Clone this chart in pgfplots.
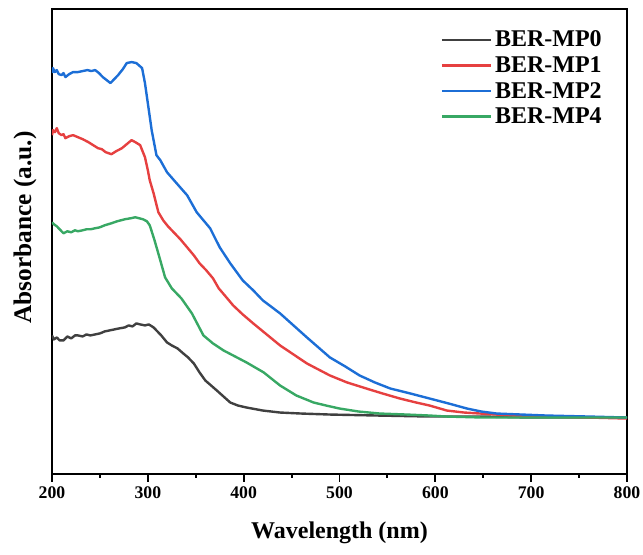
\documentclass[border=0pt]{standalone}
\usepackage{fontspec}
\setmainfont{Liberation Serif}
\usepackage{pgfplots}
\pgfplotsset{compat=1.18}
\usetikzlibrary{calc}
\definecolor{cMPzero}{RGB}{64,64,64}
\definecolor{cMPone}{RGB}{230,64,64}
\definecolor{cMPtwo}{RGB}{28,110,214}
\definecolor{cMPfour}{RGB}{56,168,100}

\begin{document}
\begin{tikzpicture}
\begin{axis}[
    scale only axis,
    width=431.25pt, height=348pt,
    xmin=200, xmax=800,
    ymin=0, ymax=464,
    xtick={200,300,...,800},
    minor x tick num=1,
    ytick=\empty,
    xtick pos=bottom,
    tick align=outside,
    major tick length=6pt,
    minor tick length=3pt,
    every tick/.style={line width=1.4pt, black},
    axis line style={line width=1.6pt},
    /pgf/number format/assume math mode=true,
    tick label style={font=\bfseries\fontsize{13.3}{15}\selectfont},
    xlabel={\textbf{Wavelength (nm)}},
    ylabel={\textbf{Absorbance (a.u.)}},
    xlabel style={font=\fontsize{18}{20}\selectfont, at={(axis description cs:0.5,-0.14)}, anchor=base},
    ylabel style={font=\fontsize{19}{21}\selectfont, at={(axis description cs:-0.047,0.53)}, anchor=center},
    legend style={draw=none, fill=none, at={(axis description cs:0.968,0.965)}, anchor=north east,
        font=\bfseries\fontsize{18}{18.75}\selectfont, row sep=1.8pt},
    legend cell align=left,
    legend image code/.code={\draw[#1] (0cm,0cm) -- (1.3cm,0cm);},
    every axis plot/.append style={line width=1.8pt, line join=round},
]
% BER-MP0
\addplot[cMPzero] coordinates {
(200,138) (202,134) (205,136) (208,133) (212,133) (216,137) (220,135) (224,138) (227,138) (232,137) (236,139) (240,138) (245,139) (250,140)
(255,142) (260,143) (265,144) (270,145) (276,146) (280,148) (284,147) (288,150) (292,149) (297,148) (301,149) (306,146)
(310,142) (314,138) (320,131) (325,128) (331,125) (337,120) (342,116) (348,110) (354,101) (360,93) (366,88) (372,83) (379,77)
(386,71) (394,68) (403,66) (420,63) (438,61) (460,60) (490,59) (540,58) (594,57) (650,57) (700,56) (750,56) (800,56)
};
\addlegendentry{BER-MP0}
% BER-MP1
\addplot[cMPone] coordinates {
(200,338) (201,343) (203,341) (205,345) (207,340) (210,338) (212,339) (214,335) (218,337) (222,338) (227,336) (232,334) (238,331)
(243,328) (248,325) (252,324) (256,321) (262,319) (267,322) (273,325) (278,329) (283,333) (287,331) (292,328) (297,316)
(300,303) (302,293) (306,280) (311,261) (316,253) (321,247) (327,241) (334,234) (341,226) (348,218) (354,210) (361,203) (368,195)
(374,185) (382,176) (389,168) (399,159) (410,150) (424,139) (438,128) (452,119) (466,110) (478,104) (490,98) (508,91) (528,85)
(545,80) (563,75) (580,71) (594,68) (612,63) (630,61) (647,60) (680,58) (716,57) (760,56) (800,55)
};
\addlegendentry{BER-MP1}
% BER-MP2
\addplot[cMPtwo] coordinates {
(200,400) (201,405) (203,401) (205,403) (207,399) (210,398) (212,400) (214,396) (218,399) (222,401) (227,401) (232,402) (237,403)
(241,402) (245,403) (249,400) (253,396) (257,393) (261,390) (265,394) (269,398) (274,404) (278,410) (283,411) (288,410)
(294,405) (297,390) (300,370) (304,343) (309,318) (313,313) (320,301) (330,290) (341,278) (351,261) (358,253) (365,245) (375,226)
(386,210) (399,193) (410,183) (420,173) (438,160) (452,148) (466,136) (478,126) (490,116) (506,107) (521,98) (537,91) (553,85)
(574,80) (594,75) (614,70) (633,65) (648,62) (664,60) (690,59) (716,58) (760,57) (800,56)
};
\addlegendentry{BER-MP2}
% BER-MP4
\addplot[cMPfour] coordinates {
(200,251) (202,249) (205,247) (207,245) (210,242) (212,240) (216,242) (220,241) (224,243) (227,242) (232,243) (236,244) (240,244)
(245,245) (250,246) (255,248) (262,250) (268,252) (276,254) (282,255) (287,256) (291,255) (295,254) (299,252) (302,248)
(307,233) (313,213) (318,196) (325,185) (335,175) (346,160) (352,149) (358,138) (368,130) (379,123) (391,117) (403,111)
(421,101) (438,88) (455,78) (473,71) (486,68) (500,65) (520,62) (542,60) (570,59) (594,58) (612,57) (650,56) (700,56) (750,56) (800,56)
};
\addlegendentry{BER-MP4}
\end{axis}
\pgfresetboundingbox
\path[use as bounding box] ($(current axis.south west)+(-39pt,-60.75pt)$) rectangle ($(current axis.north east)+(12pt,6.75pt)$);
\end{tikzpicture}
\end{document}
